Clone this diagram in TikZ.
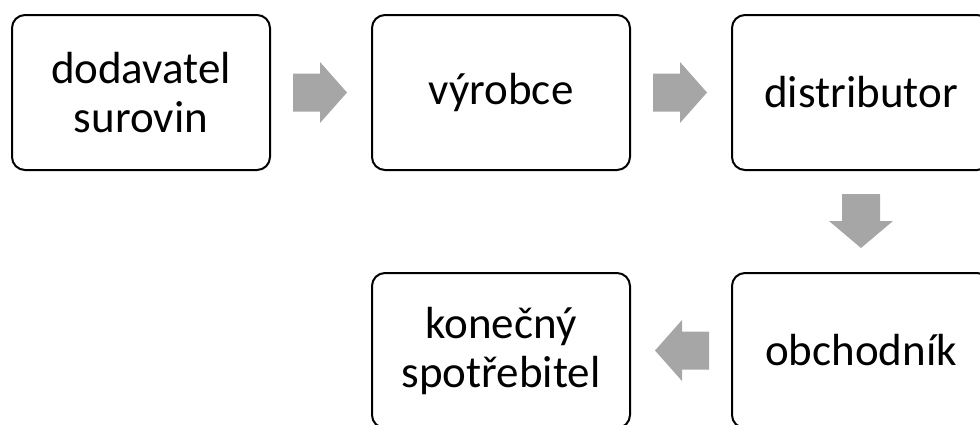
\documentclass[tikz,border=0pt]{standalone}
\usepackage{fontspec}
\setmainfont{Carlito}
\usetikzlibrary{calc}
\definecolor{arrowgray}{HTML}{A6A6A6}
\tikzset{
  stagebox/.style={draw=black, line width=2pt, rounded corners=13pt, fill=white,
    minimum width=258pt, minimum height=155pt, inner sep=0pt, align=center,
    font=\fontsize{45pt}{49pt}\selectfont},
  blockarrow/.style={fill=arrowgray, draw=none}
}
\begin{document}
\begin{tikzpicture}[x=1pt,y=-1pt]
\useasboundingbox (0,0) rectangle (980,424);
\node[stagebox] (a) at (141,92.5) {dodavatel\\surovin};
\node[stagebox] (b) at (501,92.5) {výrobce};
\node[stagebox] (c) at (861,92.5) {distributor};
\node[stagebox] (d) at (861,350.5) {obchodník};
\node[stagebox] (e) at (501,350.5) {konečný\\spotřebitel};
% right arrows
\fill[blockarrow] ($(a.east)+(22,-19)$) -- ++(27,0) -- ++(0,-11.5) -- ++(27,30.5) -- ++(-27,30.5) -- ++(0,-11.5) -- ++(-27,0) -- cycle;
\fill[blockarrow] ($(b.east)+(22,-19)$) -- ++(27,0) -- ++(0,-11.5) -- ++(27,30.5) -- ++(-27,30.5) -- ++(0,-11.5) -- ++(-27,0) -- cycle;
% down arrow
\fill[blockarrow] ($(c.south)+(-19,23)$) -- ++(0,27) -- ++(-13,0) -- ++(32,27) -- ++(32,-27) -- ++(-13,0) -- ++(0,-27) -- cycle;
% left arrow
\fill[blockarrow] ($(d.west)+(-22,-19)$) -- ++(-27,0) -- ++(0,-11.5) -- ++(-27,30.5) -- ++(27,30.5) -- ++(0,-11.5) -- ++(27,0) -- cycle;
\end{tikzpicture}
\end{document}
